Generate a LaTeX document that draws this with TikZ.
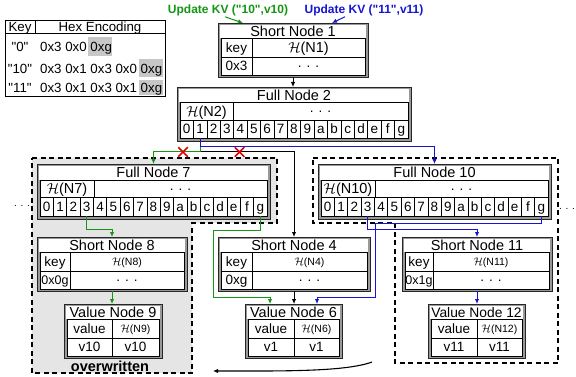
\documentclass[tikz,border=0pt]{standalone}
\usepackage{fontspec}
\setmainfont{Liberation Sans}
\usetikzlibrary{arrows.meta,shapes.misc}
\definecolor{gr}{RGB}{20,150,20}
\definecolor{bl}{RGB}{20,20,210}
\definecolor{rd}{RGB}{225,0,0}
\newcommand\fsz[1]{\fontsize{#1}{#1}\selectfont}
\newcommand\Hh[1]{$\mathcal{H}$(#1)}
\newcommand\qq{\XeTeXglyph\XeTeXcharglyph"22\relax}
\newcommand\mkframe[7]{%
 \node[nframe, minimum width={(#4-#2)*1pt}, minimum height={(#5-#3)*1pt}] (#1) at (#2,#3) {};
 \fill[white] (#2+1.8,#3+1.8) rectangle (#4-1.8,#6);
 \node[ttl] (#1t) at ({(#2+#4)/2},{(#3+#6)/2+0.6}) {#7};}
\newcommand\mkcell[7][]{\node[cellst,#1,minimum width={(#5-#3)*1pt},minimum height={(#6-#4)*1pt}] (#2) at (#3,#4) {#7};}
\begin{document}
\begin{tikzpicture}[x=1pt,y=-1pt,
 nframe/.style={draw=black!85, fill=black!40, line width=0.7pt, inner sep=0pt, outer sep=0pt, anchor=north west},
 cellst/.style={draw=black, fill=white, line width=0.6pt, inner sep=0pt, outer sep=0pt, anchor=north west, font=\fsz{13.5}, text height=9.7pt, text depth=0pt},
 hsmall/.style={font=\fsz{10.5}, text height=7.6pt},
 hbig/.style={font=\fsz{14.5}, text height=10.4pt},
 dotc/.style={text height=3pt},
 ttl/.style={inner sep=0pt, font=\fsz{14.5}, text height=10.4pt, text depth=0pt},
 txt/.style={inner sep=0pt, font=\fsz{13.3}, text height=9.5pt, text depth=0pt},
 arr/.style={-{Latex[length=5pt,width=4.5pt]}, line width=1pt},
 regionst/.style={dash pattern=on 5pt off 3.5pt, line width=1.3pt},
 xmark/.style={cross out, draw=rd, line width=1.5pt, minimum size=8pt, inner sep=0pt},
 lab/.style={inner sep=1pt, font=\bfseries\fsz{12}}
]
\useasboundingbox (0,0) rectangle (576,377);
% regions
\draw[regionst, fill=black!10] (32,158) -- (277,158) -- (277,223) -- (192,223) -- (192,373) -- (32,373) -- cycle;
\draw[regionst] (313,158) -- (558,158) -- (558,363) -- (395,363) -- (395,223) -- (313,223) -- cycle;
% key table
\node[draw, line width=0.8pt, inner sep=0pt, outer sep=0pt, anchor=north west, minimum width=160pt, minimum height=76pt] (keytab) at (5,20) {};
\fill[black!22] (88,37.5) rectangle (111.5,56);
\fill[black!22] (139,59.5) rectangle (162.5,77.5);
\fill[black!22] (139,80.5) rectangle (162.5,95.5);
\mkcell[fill=none, txt]{kkey}{5}{20}{35}{33}{Key}
\mkcell[fill=none, txt]{khex}{35}{20}{165}{33}{Hex Encoding}
\node[txt] (k0) at (20,47) {\qq0\qq};
\node[txt] (k10) at (20,68.5) {\qq10\qq};
\node[txt] (k11) at (20,88) {\qq11\qq};
\node[txt, anchor=west] (h0) at (40,47) {0x3 0x0 0xg};
\node[txt, anchor=west] (h10) at (40,68.5) {0x3 0x1 0x3 0x0 0xg};
\node[txt, anchor=west] (h11) at (40,88) {0x3 0x1 0x3 0x1 0xg};
% labels
\node[lab, text=gr] (upd1) at (228,10) {Update KV (\qq10\qq,v10)};
\node[lab, text=bl] (upd2) at (364,10) {Update KV (\qq11\qq,v11)};
% Short Node 1
\mkframe{sn1}{218}{23}{368}{77}{38}{Short Node 1}
\mkcell{sn1k}{221}{38}{252}{57}{key}
\mkcell[hbig]{sn1h}{252}{38}{365}{57}{\Hh{N1}}
\mkcell{sn1v}{221}{57}{252}{75}{0x3}
\mkcell[dotc]{sn1d}{252}{57}{365}{75}{. . .}
% Full Node 2
\mkframe{fn2}{177}{87}{411}{141}{102}{Full Node 2}
\mkcell[hbig]{fn2h}{180}{102}{233}{120}{\Hh{N2}}
\mkcell[dotc]{fn2d}{233}{102}{408}{120}{. . .}
\foreach \t [count=\i from 0] in {0,1,2,3,4,5,6,7,8,9,a,b,c,d,e,f,g}
  \node[cellst, minimum width=13.41pt, minimum height=18pt] (fn2c\t) at ({180+\i*13.41},120) {\t};
% Full Node 7
\mkframe{fn7}{37}{164}{270}{219}{180}{Full Node 7}
\mkcell[hbig]{fn7h}{40}{180}{94}{197}{\Hh{N7}}
\mkcell[dotc]{fn7d}{94}{180}{267}{197}{. . .}
\foreach \t [count=\i from 0] in {0,1,2,3,4,5,6,7,8,9,a,b,c,d,e,f,g}
  \node[cellst, minimum width=13.35pt, minimum height=19pt] (fn7c\t) at ({40+\i*13.35},197) {\t};
% Full Node 10
\mkframe{fn10}{318}{164}{551}{219}{180}{Full Node 10}
\mkcell[hbig]{fn10h}{321}{180}{375}{197}{\Hh{N10}}
\mkcell[dotc]{fn10d}{375}{180}{548}{197}{. . .}
\foreach \t [count=\i from 0] in {0,1,2,3,4,5,6,7,8,9,a,b,c,d,e,f,g}
  \node[cellst, minimum width=13.35pt, minimum height=19pt] (fn10c\t) at ({321+\i*13.35},197) {\t};
% Short Node 4
\mkframe{sn4}{218}{237}{370}{291}{252}{Short Node 4}
\mkcell{sn4k}{221}{252}{252}{271}{key}
\mkcell[hsmall]{sn4h}{252}{252}{367}{271}{\Hh{N4}}
\mkcell{sn4v}{221}{271}{252}{289}{0xg}
\mkcell[dotc]{sn4d}{252}{271}{367}{289}{. . .}
% Short Node 8
\mkframe{sn8}{37}{237}{187}{291}{252}{Short Node 8}
\mkcell{sn8k}{40}{252}{70}{271}{key}
\mkcell[hsmall]{sn8h}{70}{252}{184}{271}{\Hh{N8}}
\mkcell[font=\fsz{12.5}]{sn8v}{40}{271}{70}{289}{0x0g}
\mkcell[dotc]{sn8d}{70}{271}{184}{289}{. . .}
% Short Node 11
\mkframe{sn11}{402}{237}{552}{291}{252}{Short Node 11}
\mkcell{sn11k}{405}{252}{433}{271}{key}
\mkcell[hsmall]{sn11h}{433}{252}{549}{271}{\Hh{N11}}
\mkcell[font=\fsz{12.5}]{sn11v}{405}{271}{433}{289}{0x1g}
\mkcell[dotc]{sn11d}{433}{271}{549}{289}{. . .}
% Value Node 6
\mkframe{vn6}{245}{304}{342}{358}{319}{Value Node 6}
\mkcell{vn6k}{248}{319}{294}{338}{value}
\mkcell[hsmall]{vn6h}{294}{319}{339}{338}{\Hh{N6}}
\mkcell{vn6a}{248}{338}{294}{356}{v1}
\mkcell{vn6b}{294}{338}{339}{356}{v1}
% Value Node 9
\mkframe{vn9}{64}{304}{162}{358}{319}{Value Node 9}
\mkcell{vn9k}{67}{319}{112}{338}{value}
\mkcell[hsmall]{vn9h}{112}{319}{159}{338}{\Hh{N9}}
\mkcell{vn9a}{67}{338}{112}{356}{v10}
\mkcell{vn9b}{112}{338}{159}{356}{v10}
% Value Node 12
\mkframe{vn12}{428}{304}{525}{358}{319}{\fsz{13.8}Value Node 12}
\mkcell{vn12k}{431}{319}{477}{338}{value}
\mkcell[hsmall]{vn12h}{477}{319}{522}{338}{\Hh{N12}}
\mkcell{vn12a}{431}{338}{477}{356}{v11}
\mkcell{vn12b}{477}{338}{522}{356}{v11}
% other texts
\node[inner sep=0pt, font=\bfseries\fsz{14.5}] (ow) at (110,366) {overwritten};
\node[inner sep=0pt, font=\fsz{10}] (dl) at (22,206) {. . .};
\node[inner sep=0pt, font=\fsz{10}] (dr) at (567,209) {. . .};
% connectors
\draw[arr, gr] ([xshift=-3pt]upd1.south) -- ([xshift=-50pt]sn1.north);
\draw[arr, bl] ([xshift=-19pt]upd2.south) -- ([xshift=39pt]sn1.north);
\draw[arr] (sn1.south) -- (sn1.south |- fn2.north);
\draw[arr] (fn2c1.south) -- ++(0,14) -| (sn4.north);
\draw[arr, gr] (fn2c1.south) -- ++(0,14) -| (fn7.north);
\draw[arr, bl] (fn2c1.south) -- ++(0,9) -| (fn10.north);
\node[xmark] (xa) at (183,152) {};
\node[xmark] (xb) at (239.5,152) {};
\draw[arr, gr] (fn7c3.south) -- ++(0,13) -| (sn8.north);
\draw[arr, gr] (fn7cg.south) -- ++(0,14) -| (213,297) -| ([xshift=-23.5pt]vn6.north);
\draw[arr, gr] (sn8.south) -- (sn8.south |- vn9.north);
\draw[arr] (sn4.south) -- (sn4.south |- vn6.north);
\draw[arr, bl] (fn10c3.south) -- ++(0,13) -| (sn11.north);
\draw[arr, bl] (fn10cg.south) -- ++(0,7) -| (375,297) -| ([xshift=23.5pt]vn6.north);
\draw[arr, bl] (sn11.south) -- (sn11.south |- vn12.north);
\coordinate (ca) at (372,362);
\coordinate (cb) at (213,371);
\draw[arr, line width=1.1pt] (ca) .. controls (345,372) and (280,371) .. (cb);
\end{tikzpicture}
\end{document}
